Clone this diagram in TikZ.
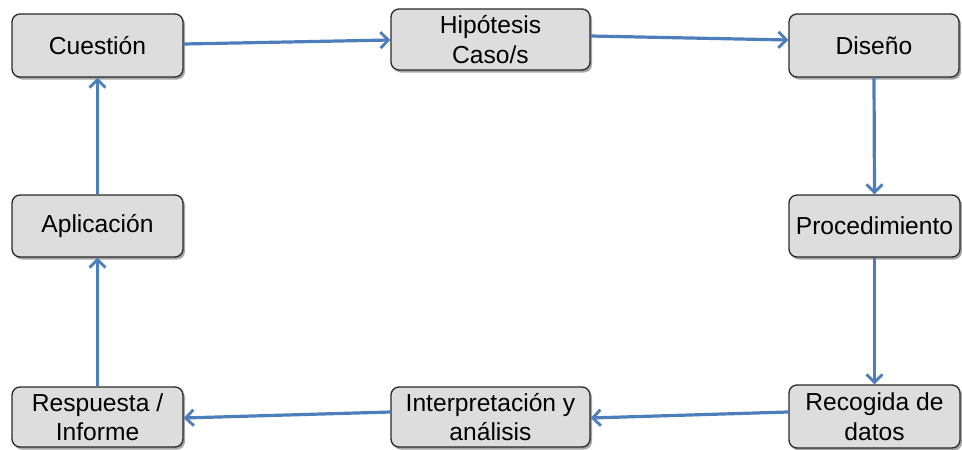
\documentclass[tikz,border=0pt]{standalone}
\usepackage{fontspec}
\setmainfont{Liberation Sans}
\usetikzlibrary{arrows.meta,shadows,calc}
\definecolor{boxfill}{RGB}{221,221,221}
\definecolor{boxline}{RGB}{40,40,40}
\definecolor{arrowblue}{RGB}{76,126,187}
\tikzset{
  stepbox/.style={draw=boxline, line width=1.3pt, fill=boxfill, rounded corners=8pt,
    inner sep=0pt, align=center, font=\fontsize{24.6}{29.5}\selectfont,
    drop shadow={shadow xshift=2pt, shadow yshift=-2.5pt, opacity=0.35, fill=black}},
  flow/.style={draw=arrowblue, line width=3.2pt, -{Straight Barb[length=8pt,width=16pt,line width=2.8pt]}}
}
\begin{document}
\begin{tikzpicture}[x=1pt,y=-1pt]
\useasboundingbox (0,0) rectangle (962,450);
\node[stepbox, minimum width=171pt, minimum height=63pt] (cue) at (97.5,45.5) {Cuestión};
\node[stepbox, minimum width=199pt, minimum height=61pt] (hip) at (490.5,39.5) {Hipótesis\\Caso/s};
\node[stepbox, minimum width=170pt, minimum height=63pt] (dis) at (874,45.5) {Diseño};
\node[stepbox, minimum width=171pt, minimum height=62pt] (apl) at (97.5,226) {Aplicación};
\node[stepbox, minimum width=171pt, minimum height=62pt] (pro) at (874.5,226) {Procedimiento};
\node[stepbox, minimum width=171pt, minimum height=60pt] (res) at (97.5,417) {Respuesta /\\Informe};
\node[stepbox, minimum width=199pt, minimum height=60pt] (int) at (490.5,417) {Interpretación y\\análisis};
\node[stepbox, minimum width=171pt, minimum height=63pt] (rec) at (874.5,416.5) {Recogida de\\datos};
\draw[flow] ($(cue.east)+(0,-1.5)$) -- ($(hip.west)+(0,0.5)$);
\draw[flow] ($(hip.east)+(0,-3.5)$) -- ($(dis.west)+(0,-5.5)$);
\draw[flow] (dis.south) -- (pro.north);
\draw[flow] (pro.south) -- (rec.north);
\draw[flow] ($(rec.west)+(0,-4.5)$) -- ($(int.east)+(0,1)$);
\draw[flow] ($(int.west)+(0,-5)$) -- ($(res.east)+(0,1)$);
\draw[flow] (res.north) -- (apl.south);
\draw[flow] (apl.north) -- (cue.south);
\end{tikzpicture}
\end{document}
